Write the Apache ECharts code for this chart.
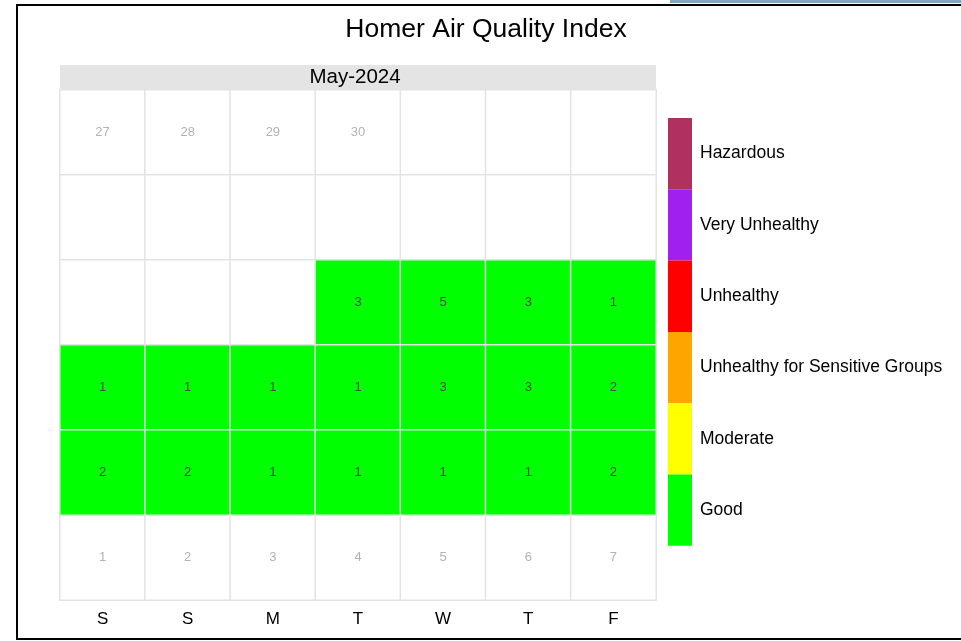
<!DOCTYPE html>
<html>
<head>
<meta charset="utf-8">
<script src="https://cdn.jsdelivr.net/npm/echarts@6/dist/echarts.min.js"></script>
<style>
  html, body { margin: 0; padding: 0; background: #fff; }
  #main { width: 961px; height: 641px; }
</style>
</head>
<body>
<div id="main"></div>
<script>
// calendar for May 2024, week starts on Saturday
var monthLabel = 'May-2024';
var year = 2024, month = 4;
var weekdays = ['S', 'S', 'M', 'T', 'W', 'T', 'F'];
var weekRows = ['1', '2', '3', '4', '5', '6'];

// daily AQI readings (day of month -> value)
var aqiDays = [14, 15, 16, 17, 18, 19, 20, 21, 22, 23, 24, 25, 26, 27, 28, 29, 30, 31];
var aqiValues = [3, 5, 3, 1, 1, 1, 1, 1, 3, 3, 2, 2, 2, 1, 1, 1, 1, 2];

// AQI categories
var aqiBreaks = [0, 50, 100, 150, 200, 300, 500];
var aqiNames = ['Good', 'Moderate', 'Unhealthy for Sensitive Groups', 'Unhealthy', 'Very Unhealthy', 'Hazardous'];
var aqiColors = ['#00ff00', '#ffff00', '#ffa500', '#ff0000', '#a020f0', '#b03060'];

var first = new Date(year, month, 1);
var offset = (first.getDay() + 1) % 7;   // columns before the 1st

// background cells, days outside the month get a grey number
var cells = [];
for (var i = 0; i < 42; i++) {
  var d = new Date(year, month, 1 - offset + i);
  cells.push({
    value: [i % 7, Math.floor(i / 7), 0],
    txt: d.getMonth() === month ? '' : String(d.getDate())
  });
}

var aqiData = [];
for (var k = 0; k < aqiDays.length; k++) {
  var idx = aqiDays[k] - 1 + offset;
  aqiData.push([idx % 7, Math.floor(idx / 7), aqiValues[k]]);
}

var pieces = [];
for (var p = 0; p < aqiNames.length; p++) {
  pieces.push({ gte: aqiBreaks[p], lt: aqiBreaks[p + 1], label: aqiNames[p], color: aqiColors[p] });
}

var chart = echarts.init(document.getElementById('main'));
var font = 'Liberation Sans, Arial, sans-serif';

chart.setOption({
  animation: false,
  textStyle: { fontFamily: font },
  title: {
    text: 'Homer Air Quality Index',
    left: 481,
    top: 11,
    textAlign: 'center',
    textStyle: { fontSize: 26.5, fontWeight: 'normal', color: '#000', fontFamily: font }
  },
  grid: { left: 60, top: 90, width: 596, height: 510 },
  xAxis: {
    type: 'category',
    data: weekdays,
    axisLine: { show: false },
    axisTick: { show: false },
    splitLine: { show: false },
    axisLabel: { color: '#000', fontSize: 17, margin: 11, fontFamily: font }
  },
  yAxis: {
    type: 'category',
    data: weekRows,
    inverse: true,
    show: false
  },
  visualMap: {
    type: 'piecewise',
    seriesIndex: 1,
    pieces: pieces,
    selectedMode: false,
    itemSymbol: 'rect',
    orient: 'vertical',
    align: 'left',
    padding: 0,
    left: 668,
    top: 118,
    itemWidth: 24,
    itemHeight: 71.3,
    itemGap: 0,
    textGap: 8,
    textStyle: { color: '#000', fontSize: 17.5, fontFamily: font }
  },
  graphic: [
    { type: 'rect', shape: { x: 17, y: 5, width: 960, height: 634 }, style: { fill: null, stroke: '#000', lineWidth: 2 }, silent: true },
    { type: 'rect', shape: { x: 670, y: 0, width: 291, height: 3 }, style: { fill: '#7fa9bf' }, silent: true },
    { type: 'rect', shape: { x: 60, y: 65, width: 596, height: 25 }, style: { fill: '#e4e4e4' }, silent: true },
    { type: 'text', x: 355, y: 77, style: { text: monthLabel, fill: '#000', fontSize: 20.5, fontFamily: font, align: 'center', verticalAlign: 'middle' }, silent: true }
  ],
  series: [
    {
      type: 'heatmap',
      data: cells,
      itemStyle: { color: '#ffffff', borderColor: '#e3e3e3', borderWidth: 1.5 },
      label: {
        show: true,
        color: '#b3b3b3',
        fontSize: 13,
        fontFamily: font,
        formatter: function (p) { return p.data.txt; }
      },
      emphasis: { disabled: true }
    },
    {
      type: 'heatmap',
      data: aqiData,
      itemStyle: { borderColor: '#e3e3e3', borderWidth: 1.5 },
      label: {
        show: true,
        color: '#4d4d4d',
        fontSize: 13,
        fontFamily: font,
        formatter: function (p) { return p.value[2]; }
      },
      emphasis: { disabled: true }
    }
  ]
});
</script>
</body>
</html>
